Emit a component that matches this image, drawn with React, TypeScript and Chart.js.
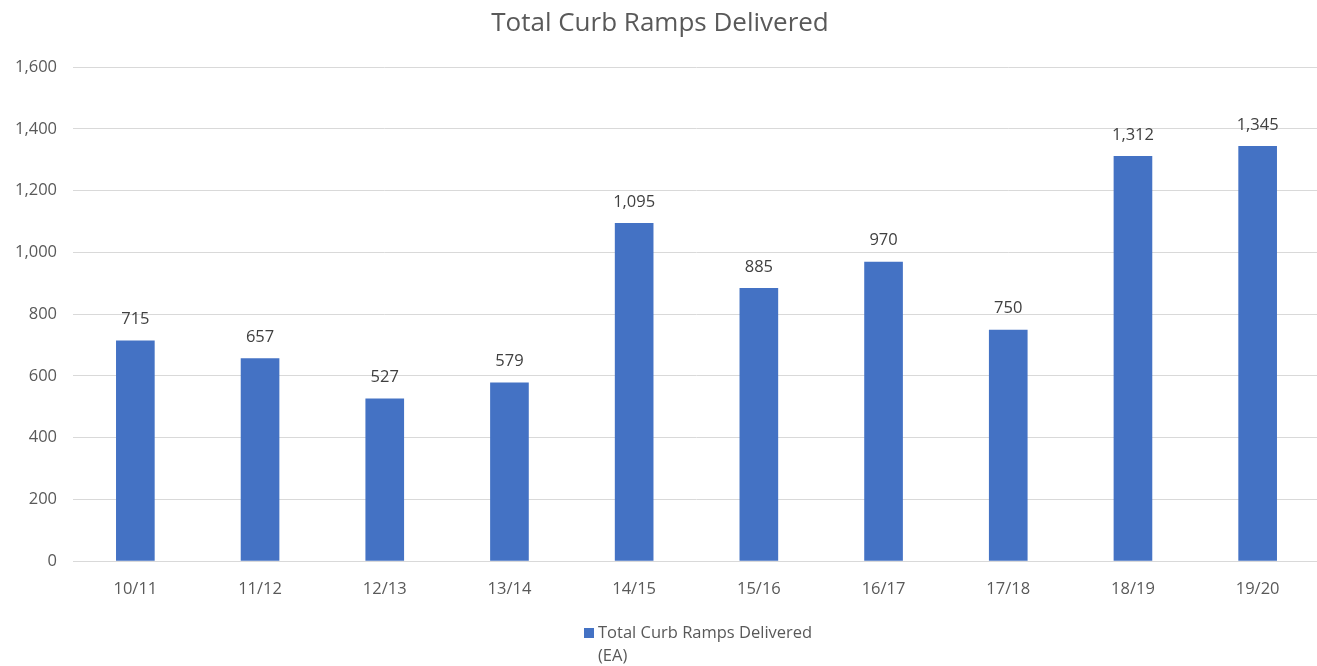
import React, { useEffect, useRef } from "react";
import { Chart, registerables } from "chart.js";

Chart.register(...registerables);

const categories = ["10/11", "11/12", "12/13", "13/14", "14/15", "15/16", "16/17", "17/18", "18/19", "19/20"];
const seriesValues = [715, 657, 527, 579, 1095, 885, 970, 750, 1312, 1345];
const seriesName = "Total Curb Ramps Delivered";
const legendLines = ["Total Curb Ramps Delivered", "(EA)"];
const titleText = "Total Curb Ramps Delivered";

const FONT = "'Open Sans', 'Noto Sans', sans-serif";
const BAR_COLOR = "#4472C4";

const fmt = (v: number) => v.toLocaleString("en-US");

const dataLabelPlugin = {
  id: "dataLabels",
  afterDatasetsDraw(chart: any) {
    const ctx = chart.ctx;
    const meta = chart.getDatasetMeta(0);
    ctx.save();
    ctx.font = `16.5px ${FONT}`;
    ctx.fillStyle = "#404040";
    ctx.textAlign = "center";
    ctx.textBaseline = "middle";
    meta.data.forEach((el: any, i: number) => {
      ctx.fillText(fmt(seriesValues[i]), el.x, el.y - 21);
    });
    ctx.restore();
  },
};

const legendPlugin = {
  id: "customLegend",
  afterDraw(chart: any) {
    const ctx = chart.ctx;
    ctx.save();
    ctx.fillStyle = BAR_COLOR;
    ctx.fillRect(584, 628, 10, 10);
    ctx.font = `16.5px ${FONT}`;
    ctx.fillStyle = "#595959";
    ctx.textAlign = "left";
    ctx.textBaseline = "middle";
    ctx.fillText(legendLines[0], 598, 633);
    ctx.fillText(legendLines[1], 598, 656);
    ctx.restore();
  },
};

export default function App() {
  const ref = useRef<HTMLCanvasElement>(null);
  useEffect(() => {
    if (!ref.current) return;
    const chart = new Chart(ref.current, {
      type: "bar",
      data: {
        labels: categories,
        datasets: [
          {
            label: seriesName,
            data: seriesValues,
            backgroundColor: BAR_COLOR,
            barPercentage: 0.31,
            categoryPercentage: 1,
          },
        ],
      },
      options: {
        animation: false,
        responsive: false,
        maintainAspectRatio: false,
        layout: { padding: { top: 0, bottom: 49, left: 0, right: 0 } },
        plugins: {
          legend: { display: false },
          tooltip: { enabled: false },
          title: {
            display: true,
            text: titleText,
            color: "#595959",
            font: { family: FONT, size: 26, weight: "normal" },
            padding: { top: 8, bottom: 28 },
          },
        },
        scales: {
          x: {
            grid: { display: false, drawTicks: false },
            border: { display: true, color: "#d9d9d9", width: 1 },
            ticks: { color: "#595959", font: { family: FONT, size: 16.5 }, padding: 18 },
          },
          y: {
            min: 0,
            max: 1600,
            afterFit: (scale: any) => {
              scale.width = 73;
            },
            grid: { color: "#d9d9d9", drawTicks: false },
            border: { display: false },
            ticks: {
              stepSize: 200,
              color: "#595959",
              font: { family: FONT, size: 16.5 },
              padding: 16,
              callback: (v: any) => fmt(Number(v)),
            },
          },
        },
      },
      plugins: [dataLabelPlugin, legendPlugin],
    });
    return () => chart.destroy();
  }, []);
  return (
    <div style={{ position: "absolute", left: 0, top: 0, width: 1317, height: 666, overflow: "hidden", background: "#fff" }}>
      <canvas ref={ref} width={1320} height={666} style={{ width: 1320, height: 666, display: "block" }} />
    </div>
  );
}
